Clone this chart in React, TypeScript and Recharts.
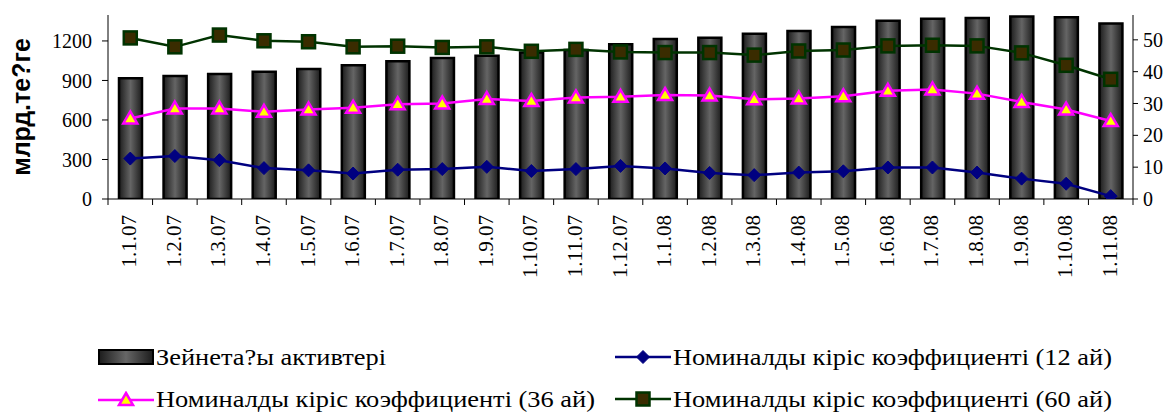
import React from 'react';
import {
  ComposedChart,
  Bar,
  Line,
  XAxis,
  YAxis,
  Legend,
} from 'recharts';

const dates = [
  '1.1.07', '1.2.07', '1.3.07', '1.4.07', '1.5.07', '1.6.07', '1.7.07', '1.8.07',
  '1.9.07', '1.10.07', '1.11.07', '1.12.07', '1.1.08', '1.2.08', '1.3.08', '1.4.08',
  '1.5.08', '1.6.08', '1.7.08', '1.8.08', '1.9.08', '1.10.08', '1.11.08',
];

// Зейнетақы активтері, млрд. теңге (left axis)
const assets = [
  917, 934, 949, 967, 987, 1015, 1046, 1071, 1088, 1112, 1132, 1175,
  1215, 1225, 1255, 1276, 1306, 1354, 1369, 1375, 1385, 1380, 1332,
];

// yield coefficients, % (right axis)
const yield12 = [
  12.7, 13.5, 12.2, 9.7, 9.0, 8.0, 9.2, 9.4, 10.1, 8.8, 9.4, 10.4,
  9.6, 8.2, 7.5, 8.3, 8.7, 9.9, 9.9, 8.3, 6.4, 4.8, 0.9,
];
const yield36 = [
  25.3, 28.4, 28.4, 27.4, 28.1, 28.7, 29.8, 30.0, 31.4, 30.8, 31.9, 32.1,
  32.7, 32.5, 31.3, 31.6, 32.3, 34.0, 34.4, 33.1, 30.5, 28.1, 24.5,
];
const yield60 = [
  50.6, 47.8, 51.5, 49.7, 49.4, 47.8, 48.0, 47.6, 47.8, 46.4, 47.0, 46.2,
  46.0, 46.0, 45.2, 46.5, 46.8, 48.1, 48.3, 48.1, 45.9, 42.0, 37.6,
];

const leftTicks = [0, 300, 600, 900, 1200];
const rightTicks = [0, 10, 20, 30, 40, 50];

const chartData = dates.map((d, i) => ({
  date: d,
  assets: assets[i],
  y12: yield12[i],
  y36: yield36[i],
  y60: yield60[i],
}));

const SERIF = '"Liberation Serif", "Times New Roman", serif';
const W = 1174;
const H = 412;
const LEFT_W = 108;
const RIGHT_W = 41;
const X_H = 213;
const STEP = (W - LEFT_W - RIGHT_W) / dates.length;

function DateTick(props: any) {
  const { x, payload, index } = props;
  // axis line sits at the top edge of the x-axis band
  const axisY = H - X_H;
  return (
    <g>
      <line x1={x - STEP / 2} x2={x - STEP / 2} y1={axisY} y2={axisY + 6} stroke="#000" />
      {index === dates.length - 1 && (
        <line x1={x + STEP / 2} x2={x + STEP / 2} y1={axisY} y2={axisY + 6} stroke="#000" />
      )}
      <text
        transform={`translate(${x - 1},${axisY + 16}) rotate(-90)`}
        textAnchor="end"
        dominantBaseline="central"
        fontFamily={SERIF}
        fontSize={21}
        fill="#000"
      >
        {payload.value}
      </text>
    </g>
  );
}

function Diamond({ cx, cy }: any) {
  if (cx == null || cy == null) return null;
  const r = 6.5;
  return (
    <polygon
      points={`${cx},${cy - r} ${cx + r},${cy} ${cx},${cy + r} ${cx - r},${cy}`}
      fill="#000080"
      stroke="#000080"
    />
  );
}

function Triangle({ cx, cy }: any) {
  if (cx == null || cy == null) return null;
  return (
    <polygon
      points={`${cx},${cy - 7} ${cx + 7},${cy + 5} ${cx - 7},${cy + 5}`}
      fill="#FFFF00"
      stroke="#FF00FF"
      strokeWidth={2.5}
    />
  );
}

function Square({ cx, cy }: any) {
  if (cx == null || cy == null) return null;
  return (
    <rect x={cx - 6.5} y={cy - 6.5} width={13} height={13} fill="#3a2c00" stroke="#003300" strokeWidth={2.5} />
  );
}

function LegendIcon({ kind }: { kind: string }) {
  return (
    <svg width={56} height={16} style={{ display: 'block' }}>
      <defs>
        <linearGradient id="legBar" x1="0" y1="0" x2="1" y2="0">
          <stop offset="0%" stopColor="#1c1c1c" />
          <stop offset="50%" stopColor="#666" />
          <stop offset="100%" stopColor="#1c1c1c" />
        </linearGradient>
      </defs>
      {kind === 'bar' && (
        <rect x={1} y={1} width={54} height={14} fill="url(#legBar)" stroke="#000" strokeWidth={2} />
      )}
      {kind === 'y12' && (
        <g>
          <line x1={0} x2={56} y1={8} y2={8} stroke="#000080" strokeWidth={2.5} />
          <Diamond cx={28} cy={8} />
        </g>
      )}
      {kind === 'y36' && (
        <g>
          <line x1={0} x2={56} y1={9} y2={9} stroke="#FF00FF" strokeWidth={2.5} />
          <Triangle cx={28} cy={9} />
        </g>
      )}
      {kind === 'y60' && (
        <g>
          <line x1={0} x2={56} y1={8} y2={8} stroke="#003300" strokeWidth={2.5} />
          <Square cx={28} cy={8} />
        </g>
      )}
    </svg>
  );
}

const legendItems = [
  { kind: 'bar', label: 'Зейнета?ы активтері', left: 98, top: 349 },
  { kind: 'y12', label: 'Номиналды кіріс коэффициенті (12 ай)', left: 615, top: 349 },
  { kind: 'y36', label: 'Номиналды кіріс коэффициенті (36 ай)', left: 98, top: 391 },
  { kind: 'y60', label: 'Номиналды кіріс коэффициенті (60 ай)', left: 615, top: 391 },
];

function ChartLegend() {
  return (
    <div style={{ position: 'relative', width: W, height: 80 }}>
      {legendItems.map((it) => (
        <div
          key={it.kind}
          style={{
            position: 'absolute',
            left: it.left,
            top: it.top - 340,
            display: 'flex',
            alignItems: 'center',
            fontFamily: SERIF,
            fontSize: 24,
            lineHeight: '16px',
            whiteSpace: 'nowrap',
            color: '#000',
          }}
        >
          <LegendIcon kind={it.kind} />
          <span
            style={{
              marginLeft: 2,
              display: 'inline-block',
              transform: 'scaleX(1.1)',
              transformOrigin: 'left center',
            }}
          >
            {it.label}
          </span>
        </div>
      ))}
    </div>
  );
}

export default function App() {
  return (
    <div style={{ position: 'absolute', left: 0, top: 0, width: W, height: H, background: '#fff' }}>
      <ComposedChart
        width={W}
        height={H}
        data={chartData}
        margin={{ top: 15, right: 0, left: 0, bottom: 0 }}
      >
        <defs>
          <linearGradient id="barGrad" x1="0" y1="0" x2="1" y2="0">
            <stop offset="0%" stopColor="#1c1c1c" />
            <stop offset="50%" stopColor="#656565" />
            <stop offset="100%" stopColor="#1c1c1c" />
          </linearGradient>
        </defs>
        <XAxis
          dataKey="date"
          height={X_H}
          interval={0}
          tickLine={false}
          axisLine={{ stroke: '#000' }}
          tick={<DateTick />}
        />
        <YAxis
          yAxisId="left"
          width={LEFT_W}
          domain={[0, 1397]}
          ticks={leftTicks}
          allowDataOverflow
          axisLine={{ stroke: '#000' }}
          tickLine={{ stroke: '#000' }}
          tickSize={6}
          tickMargin={10}
          tick={{ fontFamily: SERIF, fontSize: 20, fill: '#000' }}
          label={{
            value: 'млрд.те?ге',
            angle: -90,
            position: 'insideLeft',
            offset: 21,
            style: { fontFamily: '"Liberation Sans", Arial, sans-serif', fontWeight: 'bold', fontSize: 25, fill: '#000', textAnchor: 'middle' },
          }}
        />
        <YAxis
          yAxisId="right"
          orientation="right"
          width={RIGHT_W}
          domain={[0, 57.8]}
          ticks={rightTicks}
          allowDataOverflow
          axisLine={{ stroke: '#000' }}
          tickLine={{ stroke: '#000' }}
          tickSize={5}
          tickMargin={5}
          tick={{ fontFamily: SERIF, fontSize: 20, fill: '#000' }}
        />
        <Legend
          layout="horizontal"
          verticalAlign="middle"
          align="center"
          wrapperStyle={{ top: 340, left: 0, width: W }}
          content={<ChartLegend />}
        />
        <Bar
          yAxisId="left"
          dataKey="assets"
          name="Зейнета?ы активтері"
          fill="url(#barGrad)"
          stroke="#000"
          strokeWidth={2.5}
          barSize={23}
          isAnimationActive={false}
        />
        <Line
          yAxisId="right"
          dataKey="y12"
          name="Номиналды кіріс коэффициенті (12 ай)"
          stroke="#000080"
          strokeWidth={2.5}
          dot={<Diamond />}
          activeDot={false}
          isAnimationActive={false}
        />
        <Line
          yAxisId="right"
          dataKey="y36"
          name="Номиналды кіріс коэффициенті (36 ай)"
          stroke="#FF00FF"
          strokeWidth={2.5}
          dot={<Triangle />}
          activeDot={false}
          isAnimationActive={false}
        />
        <Line
          yAxisId="right"
          dataKey="y60"
          name="Номиналды кіріс коэффициенті (60 ай)"
          stroke="#003300"
          strokeWidth={2.5}
          dot={<Square />}
          activeDot={false}
          isAnimationActive={false}
        />
      </ComposedChart>
    </div>
  );
}
